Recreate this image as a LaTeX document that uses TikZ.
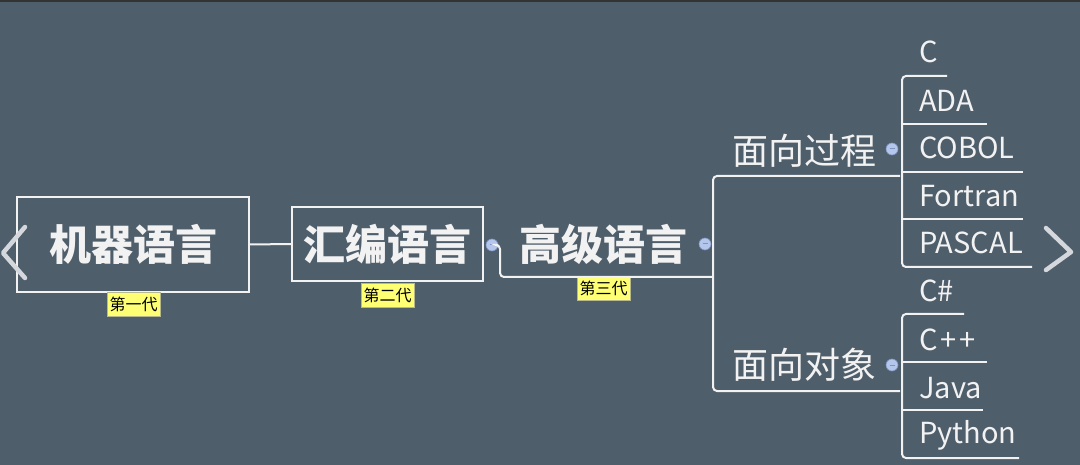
\documentclass[tikz,border=0pt]{standalone}
\usepackage{fontspec}
\setmainfont{Noto Sans CJK SC}
\begin{document}
\begin{tikzpicture}[x=1pt,y=-1pt,
  line/.style={draw=txt,line width=2pt,rounded corners=4pt},
  mainbox/.style={draw=txt,line width=2pt,inner sep=0pt,font=\fontsize{42}{44}\selectfont\bfseries,text=txt},
  plain/.style={inner sep=0pt,font=\fontsize{42}{44}\selectfont\bfseries,text=txt},
  mid/.style={inner sep=0pt,anchor=base west,font=\fontsize{36}{38}\selectfont,text=txt},
  leaf/.style={inner sep=0pt,anchor=base west,font=\fontsize{29}{31}\selectfont,text=txt},
  tag/.style={fill=tagc,draw=tagb,line width=0.6pt,inner sep=0pt,minimum height=24pt,text width=53pt,align=center,font=\fontsize{16}{17}\selectfont,text=black},
  knob/.style={circle,fill=knobc,draw=knobb,line width=0.6pt,minimum size=12pt,inner sep=0pt,path picture={\draw[knobb,line width=1pt] ([xshift=-2.5pt]path picture bounding box.center) -- ([xshift=2.5pt]path picture bounding box.center);}},
  nav/.style={draw=navc,line width=4.5pt,line cap=round,line join=round}
]
\definecolor{bgc}{HTML}{4F5E6B}
\definecolor{txt}{HTML}{F2F2F2}
\definecolor{tagc}{HTML}{FFFF73}
\definecolor{tagb}{HTML}{B8B890}
\definecolor{knobc}{HTML}{B4C6EC}
\definecolor{knobb}{HTML}{7F95C0}
\definecolor{navc}{HTML}{D4D8DC}
\definecolor{topc}{HTML}{333333}
\useasboundingbox (0,0) rectangle (1080,465);
\fill[bgc] (0,0) rectangle (1080,465);
\fill[topc] (0,0) rectangle (1080,2);

% main boxes
\node[mainbox,minimum width=232pt,minimum height=95pt] (m1) at (133,244.5) {机器语言};
\node[mainbox,minimum width=191pt,minimum height=74pt] (m2) at (387.5,244) {汇编语言};
\node[plain] (m3) at (603,244) {高级语言};

\node[tag] (t1) at (133.5,304.5) {第一代};
\node[tag] (t2) at (387.5,295) {第二代};
\node[tag] (t3) at (603.5,288.5) {第三代};

\node[knob] (k2) at (492,245) {};
\node[knob] (k3) at (705,244) {};

% connectors among main nodes
\draw[line] (m1.east) -- (m2.west);
\coordinate (u3a) at (500,277);
\coordinate (u3b) at (713,277);
\draw[line] (k2.east) -| (u3a) -- (u3b);

% middle level
\node[mid] (p) at (732,165) {面向过程};
\node[mid] (o) at (732,378) {面向对象};
\node[knob] (kp) at (892,149) {};
\node[knob] (ko) at (892,365) {};
\coordinate (pL) at (713,176);
\coordinate (pR) at (900,176);
\coordinate (oL) at (713,391);
\coordinate (oR) at (900,391);
\draw[line] (pR) -- (pL) -- (oL) -- (oR);

% procedural leaves
\node[leaf] (c) at (919,63) {C};
\node[leaf] (ada) at (919,112) {ADA};
\node[leaf] (cobol) at (919,159) {COBOL};
\node[leaf] (fortran) at (919,207) {Fortran};
\node[leaf] (pascal) at (919,254) {PASCAL};
\draw[line] (947,76) -- (902,76) -- (902,267) -- (1032,267);
\draw[line] (902,124) -- (987,124);
\draw[line] (902,172) -- (1023,172);
\draw[line] (902,219) -- (1023,219);

% object leaves
\node[leaf] (cs) at (919,302) {C\#};
\node[leaf] (cpp) at (919,350) {C\hspace{3pt}+\hspace{3pt}+};
\node[leaf] (java) at (919,398) {Java};
\node[leaf] (python) at (919,443) {Python};
\draw[line] (964,314) -- (902,314) -- (902,458) -- (1019,458);
\draw[line] (902,362) -- (987,362);
\draw[line] (902,410) -- (983,410);

% navigation arrows
\draw[nav] (25,227) -- (3,253) -- (25,278);
\draw[nav] (1046,228) -- (1071,252) -- (1046,270);
\end{tikzpicture}
\end{document}
